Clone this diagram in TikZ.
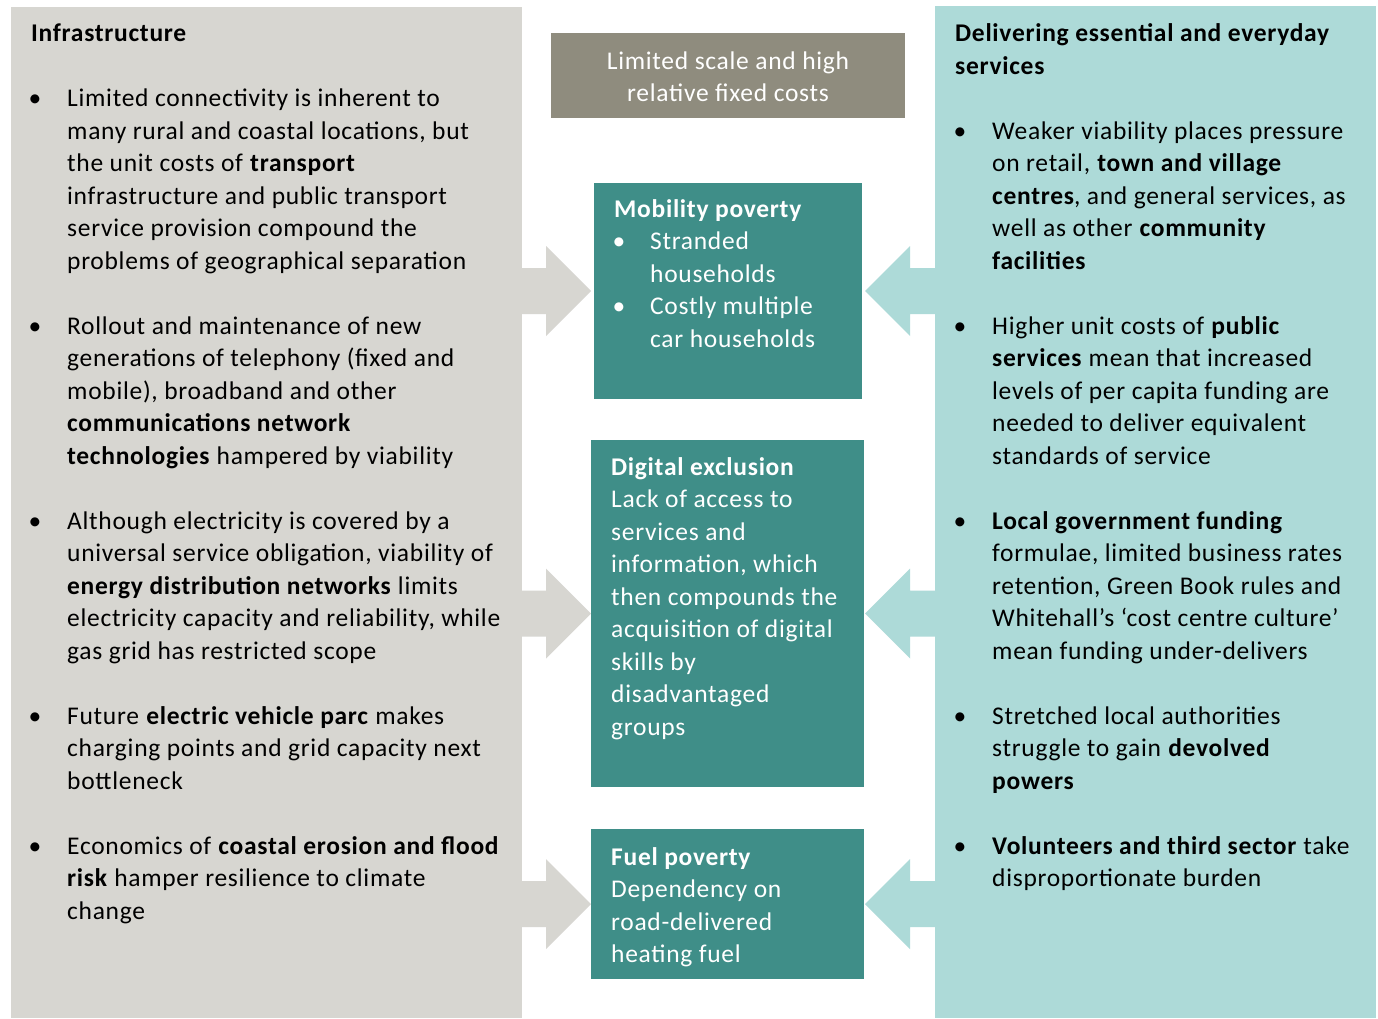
\documentclass[tikz,border=0pt]{standalone}
\usepackage{fontspec}
\setmainfont{Carlito}[LetterSpace=2.8]
\usetikzlibrary{calc}
\definecolor{infrafill}{RGB}{215,214,209}
\definecolor{servfill}{RGB}{173,218,216}
\definecolor{tealbox}{RGB}{63,142,136}
\definecolor{topfill}{RGB}{143,140,126}
\begin{document}
\begin{tikzpicture}[x=1pt,y=-1pt]
\tikzset{
  panel/.style={anchor=north west, inner sep=0pt, outer sep=0pt, draw=none},
  body/.style={anchor=north west, inner sep=0pt, align=left, font=\fontsize{25.5}{32.5}\selectfont, text=black},
  wbody/.style={body, text=white},
  bul/.style={anchor=base, inner sep=0pt, font=\fontsize{25.5}{32.5}\selectfont},
}
\useasboundingbox (0,0) rectangle (1378,1018);
\fill[white] (0,0) rectangle (1378,1018);
% panels and boxes
\node[panel, fill=infrafill, minimum width=511pt, minimum height=1011pt] (infra) at (11,7) {};
\node[panel, fill=servfill, minimum width=441pt, minimum height=1012pt] (serv) at (935,6) {};
\node[panel, fill=topfill, minimum width=354pt, minimum height=85pt] (topb) at (551,33) {};
\node[panel, fill=tealbox, minimum width=268pt, minimum height=216pt] (mob) at (594,183) {};
\node[panel, fill=tealbox, minimum width=273pt, minimum height=347pt] (dig) at (591,440) {};
\node[panel, fill=tealbox, minimum width=273pt, minimum height=150pt] (fuel) at (591,829) {};
% left arrows
\foreach \b/\d in {mob/-3, dig/0, fuel/0}{
  \coordinate (lt) at ($(\b.west)+(\d,0)$);
  \fill[infrafill] ($(infra.east|-lt)+(-6,-23)$) -- ($(lt)+(-45,-23)$) -- ($(lt)+(-45,-45)$) -- (lt)
     -- ($(lt)+(-45,45)$) -- ($(lt)+(-45,23)$) -- ($(infra.east|-lt)+(-6,23)$) -- cycle;
}
% right arrows
\foreach \b/\d in {mob/3, dig/1, fuel/1}{
  \coordinate (rt) at ($(\b.east)+(\d,0)$);
  \fill[servfill] ($(serv.west|-rt)+(6,-23)$) -- ($(rt)+(45,-23)$) -- ($(rt)+(45,-45)$) -- (rt)
     -- ($(rt)+(45,45)$) -- ($(rt)+(45,23)$) -- ($(serv.west|-rt)+(6,23)$) -- cycle;
}
% left panel text
\node[body] (ltitle) at (31,18.95) {\strut\textbf{Infrastructure}};
\node[bul] (lb1) at (35,106.7) {•};
\node[body] (lt1) at (67,83.95) {\strut Limited connectivity is inherent to\\
many rural and coastal locations, but\\
the unit costs of \textbf{transport}\\
infrastructure and public transport\\
service provision compound the\\
problems of geographical separation};
\node[bul] (lb2) at (35,334.2) {•};
\node[body] (lt2) at (67,311.45) {\strut Rollout and maintenance of new\\
generations of telephony (fixed and\\
mobile), broadband and other\\
\textbf{communications network}\\
\textbf{technologies} hampered by viability};
\node[bul] (lb3) at (35,529.2) {•};
\node[body] (lt3) at (67,506.45) {\strut Although electricity is covered by a\\
universal service obligation, viability of\\
\textbf{energy distribution networks} limits\\
electricity capacity and reliability, while\\
gas grid has restricted scope};
\node[bul] (lb4) at (35,724.2) {•};
\node[body] (lt4) at (67,701.45) {\strut Future \textbf{electric vehicle parc} makes\\
charging points and grid capacity next\\
bottleneck};
\node[bul] (lb5) at (35,854.2) {•};
\node[body] (lt5) at (67,831.45) {\strut Economics of \textbf{coastal erosion and flood}\\
\textbf{risk} hamper resilience to climate\\
change};
% right panel text
\node[body] (rtitle) at (955,18.95) {\strut\textbf{Delivering essential and everyday}\\
\textbf{services}};
\node[bul] (rb1) at (960,139.2) {•};
\node[body] (rt1) at (992,116.45) {\strut Weaker viability places pressure\\
on retail, \textbf{town and village}\\
\textbf{centres}, and general services, as\\
well as other \textbf{community}\\
\textbf{facilities}};
\node[bul] (rb2) at (960,334.2) {•};
\node[body] (rt2) at (992,311.45) {\strut Higher unit costs of \textbf{public}\\
\textbf{services} mean that increased\\
levels of per capita funding are\\
needed to deliver equivalent\\
standards of service};
\node[bul] (rb3) at (960,529.2) {•};
\node[body] (rt3) at (992,506.45) {\strut\textbf{Local government funding}\\
formulae, limited business rates\\
retention, Green Book rules and\\
Whitehall’s ‘cost centre culture’\\
mean funding under-delivers};
\node[bul] (rb4) at (960,724.2) {•};
\node[body] (rt4) at (992,701.45) {\strut Stretched local authorities\\
struggle to gain \textbf{devolved}\\
\textbf{powers}};
\node[bul] (rb5) at (960,854.2) {•};
\node[body] (rt5) at (992,831.45) {\strut\textbf{Volunteers and third sector} take\\
disproportionate burden};
% centre texts
\node[wbody, anchor=north, align=center] (toptxt) at (728,46.25) {\strut Limited scale and high\\relative fixed costs};
\node[wbody] (mobt) at (614,194.25) {\strut\textbf{Mobility poverty}};
\node[bul, text=white] (mb1) at (619,249.5) {•};
\node[wbody] (mobt1) at (650,226.75) {\strut Stranded\\households};
\node[bul, text=white] (mb2) at (619,314.5) {•};
\node[wbody] (mobt2) at (650,291.75) {\strut Costly multiple\\car households};
\node[wbody] (digt) at (611,452.25) {\strut\textbf{Digital exclusion}\\
Lack of access to\\
services and\\
information, which\\
then compounds the\\
acquisition of digital\\
skills by\\
disadvantaged\\
groups};
\node[wbody] (fuelt) at (611,842.25) {\strut\textbf{Fuel poverty}\\
Dependency on\\
road-delivered\\
heating fuel};
\end{tikzpicture}
\end{document}
